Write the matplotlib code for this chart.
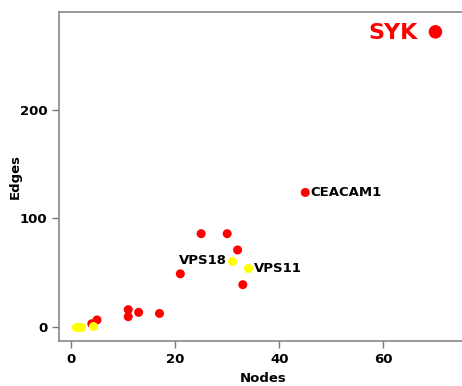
import matplotlib
matplotlib.use("Agg")
import matplotlib.pyplot as plt

# network size per gene: nodes vs edges
red_nodes = [5, 4, 11, 11, 13, 17, 21, 25, 30, 32, 33, 45, 70]
red_edges = [6.5, 3, 16, 9.5, 13.5, 12.5, 49, 86, 86, 71, 39, 124, 272]
red_sizes = [42] * 12 + [95]

yellow_nodes = [1, 1.5, 2, 4.2, 31, 34]
yellow_edges = [0, 0, 0, 1, 61, 54]

labels = {"CEACAM1": (45, 124), "VPS18": (31, 61), "VPS11": (34, 54)}

plt.rcParams["font.family"] = "DejaVu Sans"
plt.rcParams["font.weight"] = "bold"

fig = plt.figure(figsize=(4.62, 3.86), dpi=100)
ax = fig.add_axes([0.1277, 0.1166, 0.905, 0.8523])

ax.scatter(red_nodes, red_edges, s=red_sizes, color="#ff0000", zorder=3, linewidths=0)
ax.scatter(yellow_nodes, yellow_edges, s=42, color="#ffff00", zorder=4, linewidths=0)

ax.annotate("CEACAM1", labels["CEACAM1"], xytext=(4, 0), textcoords="offset points",
            ha="left", va="center", fontsize=9.5, fontweight="bold")
ax.annotate("VPS18", labels["VPS18"], xytext=(-4, 0), textcoords="offset points",
            ha="right", va="center", fontsize=9.5, fontweight="bold")
ax.annotate("VPS11", labels["VPS11"], xytext=(4, 0), textcoords="offset points",
            ha="left", va="center", fontsize=9.5, fontweight="bold")
ax.annotate("SYK", (70, 272), xytext=(-13, -1), textcoords="offset points",
            ha="right", va="center", fontsize=16, fontweight="bold", color="#ff0000")

ax.set_xlim(-2.3, 78)
ax.set_ylim(-12.9, 290.3)
ax.set_xticks([0, 20, 40, 60])
ax.set_yticks([0, 100, 200])
ax.tick_params(direction="out", length=5, width=1, color="#777777", labelsize=9.5)
for lab in ax.get_xticklabels() + ax.get_yticklabels():
    lab.set_fontweight("bold")
for sp in ax.spines.values():
    sp.set_color("#888888")
    sp.set_linewidth(1.2)
ax.spines["right"].set_visible(False)

ax.set_xlabel("Nodes", fontsize=9.5, fontweight="bold", va="center")
ax.set_ylabel("Edges", fontsize=9.5, fontweight="bold", va="center")
ax.xaxis.set_label_coords(0.488, -0.1155)
ax.yaxis.set_label_coords(-0.105, 0.5)

fig.savefig("out.png", dpi=100)
